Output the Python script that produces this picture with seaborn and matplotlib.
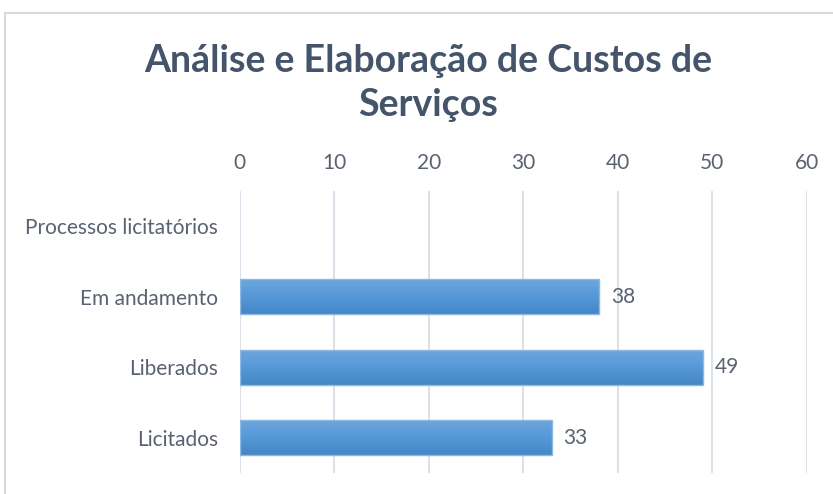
import numpy as np
import pandas as pd
import matplotlib
matplotlib.use("Agg")
import matplotlib.pyplot as plt
import seaborn as sns
from matplotlib.colors import LinearSegmentedColormap
from matplotlib.lines import Line2D

# dados do gráfico
categorias = ["Processos licitatórios", "Em andamento", "Liberados", "Licitados"]
valores = [np.nan, 38, 49, 33]
ticks_x = [0, 10, 20, 30, 40, 50, 60]
titulo = "Análise e Elaboração de Custos de\nServiços"

sns.set_theme(style="white")
plt.rcParams['font.family'] = ['Lato', 'DejaVu Sans']

df = pd.DataFrame({"categoria": categorias, "valor": valores})

W, H = 833, 494
fig = plt.figure(figsize=(W / 100, H / 100), dpi=100)
ax = fig.add_axes([239.5 / W, 1 - 473 / H, (807 - 239.5) / W, (473 - 191) / H])

sns.barplot(data=df, x="valor", y="categoria", order=categorias, orient="h",
            width=0.5, color="#5B9BD5", edgecolor="#8DB8E2", linewidth=1, ax=ax)

# gradiente nas barras
grad = LinearSegmentedColormap.from_list("g", ["#6EA6DC", "#5699D9", "#4486C6"])
gimg = np.linspace(0, 1, 64).reshape(-1, 1)
for p in ax.patches:
    w = p.get_width()
    if not np.isfinite(w) or w <= 0:
        continue
    x0, y0 = p.get_x(), p.get_y()
    h = p.get_height()
    im = ax.imshow(gimg, cmap=grad, aspect="auto", extent=[x0, x0 + w, y0 + h, y0],
                   zorder=p.get_zorder() + 0.1, interpolation="bicubic")
    im.set_clip_path(p)
    p.set_facecolor("none")
    p.set_zorder(p.get_zorder() + 0.2)

ax.set_xlim(0, 60)
ax.set_ylim(3.5, -0.5)
ax.set_xticks(ticks_x)
ax.xaxis.tick_top()
ax.grid(axis="x", color="#D9DEE7", linewidth=1.3)
ax.set_axisbelow(True)
for s in ax.spines.values():
    s.set_visible(False)
ax.set_xlabel("")
ax.set_ylabel("")
ax.tick_params(axis="both", length=0, labelsize=15, colors="#5A6272")
ax.tick_params(axis="x", pad=13)
ax.tick_params(axis="y", pad=15.5)

for cont in ax.containers:
    labels = ["" if not np.isfinite(v) else f"{v:.0f}" for v in cont.datavalues]
    ax.bar_label(cont, labels=labels, padding=8.5, fontsize=15, color="#5A6272")

fig.text(428 / W, 1 - 83 / H, titulo, ha="center", va="center", fontsize=27,
         fontweight="bold", color="#44546A", linespacing=1.35)

# borda do gráfico (recortada)
fig.add_artist(Line2D([5 / W, 5 / W], [0, 1 - 13 / H], color="#D9D9D9", lw=1.5,
                      transform=fig.transFigure))
fig.add_artist(Line2D([5 / W, 1], [1 - 13 / H, 1 - 13 / H], color="#D9D9D9", lw=1.5,
                      transform=fig.transFigure))

fig.savefig("out.png", dpi=100)
